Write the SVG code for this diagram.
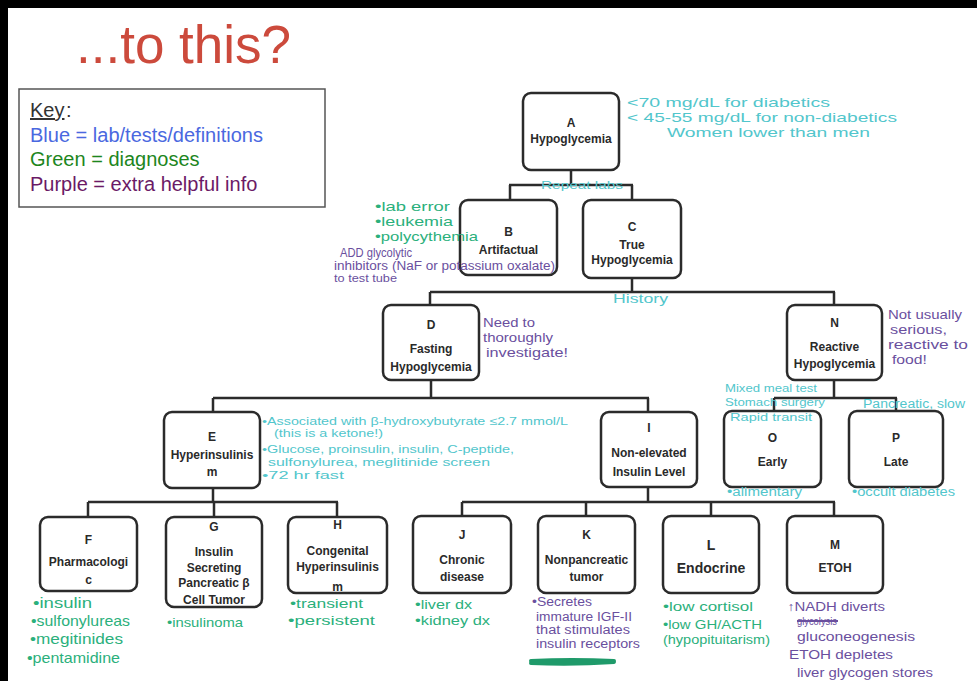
<svg xmlns="http://www.w3.org/2000/svg" width="977" height="681" viewBox="0 0 977 681">
  <style>
    .node rect { fill: #ffffff; stroke: #2b2b2b; stroke-width: 2.5; }
    .node text { font-family: "Liberation Sans", Arial, sans-serif; font-weight: bold; font-size: 12px; fill: #2a2a2a; text-anchor: middle; }
    .wire { fill: none; stroke: #2b2b2b; stroke-width: 2.5; }
    .note { font-family: "Liberation Sans", Arial, sans-serif; font-size: 13px; }
    .cy { fill: #52c6cc; }
    .gr { fill: #2bb07c; }
    .pu { fill: #6a4f9e; }
    .key { font-family: "Liberation Sans", Arial, sans-serif; font-size: 20px; }
  </style>

  <!-- page background -->
  <rect x="0" y="0" width="977" height="681" fill="#ffffff"/>

  <!-- slide frame: heavy black edge along the top and left -->
  <path id="frame" d="M4,681 V4 H977" fill="none" stroke="#000000" stroke-width="8"/>

  <!-- title -->
  <text x="76" y="63" font-family="Liberation Sans, Arial, sans-serif" font-size="53" fill="#cc4a3c">...to this?</text>

  <!-- colour key -->
  <g id="key">
    <rect x="19" y="89" width="306" height="118" fill="#ffffff" stroke="#555555" stroke-width="1.5"/>
    <text class="key" x="30" y="117" fill="#333333" text-decoration="underline">Key</text>
    <text class="key" x="66" y="117" fill="#333333">:</text>
    <text class="key" x="30" y="142" fill="#4a68e0">Blue = lab/tests/definitions</text>
    <text class="key" x="30" y="166" fill="#1d861d">Green = diagnoses</text>
    <text class="key" x="30" y="191" fill="#6b1a66">Purple = extra helpful info</text>
  </g>

  <!-- connectors -->
  <g id="connectors" class="wire">
    <path d="M571,170 V185 M509,185 H633 M510,185 V200 M632,185 V200"/>
    <path d="M632,278 V292 M430,292 H835 M430,292 V305 M834,292 V305"/>
    <path d="M431,380 V398 M213,398 H649 M213,398 V412 M648,398 V412"/>
    <path d="M834,380 V398 M774,398 H897 M774,398 V411 M896,398 V411"/>
    <path d="M213,488 V502 M88,502 H338 M88,502 V517 M214,502 V517 M337,502 V517"/>
    <path d="M648,487 V502 M462,502 H835 M462,502 V516 M586,502 V516 M711,502 V516 M834,502 V516"/>
  </g>

  <!-- nodes -->
  <g id="node-A" class="node">
    <rect x="523" y="93" width="96" height="77" rx="8"/>
    <text x="571" y="127">A</text>
    <text x="571" y="143">Hypoglycemia</text>
  </g>
  <g id="node-B" class="node">
    <rect x="460" y="200" width="97" height="75" rx="8"/>
    <text x="508.5" y="236">B</text>
    <text x="508.5" y="254">Artifactual</text>
  </g>
  <g id="node-C" class="node">
    <rect x="583" y="200" width="98" height="78" rx="8"/>
    <text x="632" y="231">C</text>
    <text x="632" y="249">True</text>
    <text x="632" y="264">Hypoglycemia</text>
  </g>
  <g id="node-D" class="node">
    <rect x="383" y="305" width="96" height="75" rx="8"/>
    <text x="431" y="329">D</text>
    <text x="431" y="353">Fasting</text>
    <text x="431" y="371">Hypoglycemia</text>
  </g>
  <g id="node-N" class="node">
    <rect x="787" y="305" width="95" height="75" rx="8"/>
    <text x="834.5" y="327">N</text>
    <text x="834.5" y="351">Reactive</text>
    <text x="834.5" y="368">Hypoglycemia</text>
  </g>
  <g id="node-E" class="node">
    <rect x="164" y="412" width="96" height="76" rx="8"/>
    <text x="212" y="441">E</text>
    <text x="212" y="459">Hyperinsulinis</text>
    <text x="212" y="476">m</text>
  </g>
  <g id="node-I" class="node">
    <rect x="601" y="412" width="96" height="75" rx="8"/>
    <text x="649" y="432">I</text>
    <text x="649" y="457">Non-elevated</text>
    <text x="649" y="476">Insulin Level</text>
  </g>
  <g id="node-O" class="node">
    <rect x="724" y="411" width="97" height="76" rx="8"/>
    <text x="772.5" y="442">O</text>
    <text x="772.5" y="466">Early</text>
  </g>
  <g id="node-P" class="node">
    <rect x="849" y="411" width="94" height="76" rx="8"/>
    <text x="896" y="442">P</text>
    <text x="896" y="466">Late</text>
  </g>
  <g id="node-F" class="node">
    <rect x="40" y="517" width="97" height="74" rx="8"/>
    <text x="88.5" y="544">F</text>
    <text x="88.5" y="566">Pharmacologi</text>
    <text x="88.5" y="584">c</text>
  </g>
  <g id="node-G" class="node">
    <rect x="166" y="517" width="96" height="90" rx="8"/>
    <text x="214" y="531">G</text>
    <text x="214" y="556">Insulin</text>
    <text x="214" y="572">Secreting</text>
    <text x="214" y="587">Pancreatic β</text>
    <text x="214" y="604">Cell Tumor</text>
  </g>
  <g id="node-H" class="node">
    <rect x="288" y="517" width="99" height="76" rx="8"/>
    <text x="337.5" y="529">H</text>
    <text x="337.5" y="555">Congenital</text>
    <text x="337.5" y="571">Hyperinsulinis</text>
    <text x="337.5" y="591">m</text>
  </g>
  <g id="node-J" class="node">
    <rect x="413" y="516" width="98" height="77" rx="8"/>
    <text x="462" y="539">J</text>
    <text x="462" y="564">Chronic</text>
    <text x="462" y="581">disease</text>
  </g>
  <g id="node-K" class="node">
    <rect x="538" y="516" width="97" height="77" rx="8"/>
    <text x="586.5" y="539">K</text>
    <text x="586.5" y="564">Nonpancreatic</text>
    <text x="586.5" y="581">tumor</text>
  </g>
  <g id="node-L" class="node">
    <rect x="663" y="516" width="96" height="77" rx="8"/>
    <text x="711" y="550" style="font-size:14px">L</text>
    <text x="711" y="573" style="font-size:14px">Endocrine</text>
  </g>
  <g id="node-M" class="node">
    <rect x="787" y="516" width="96" height="77" rx="8"/>
    <text x="835" y="549">M</text>
    <text x="835" y="572">ETOH</text>
  </g>

  <!-- handwritten notes -->
  <g id="notes" class="note">
    <!-- A -->
    <text class="cy" x="627" y="107" textLength="203" lengthAdjust="spacingAndGlyphs" style="font-size:13.5px">&lt;70 mg/dL for diabetics</text>
    <text class="cy" x="627" y="122" textLength="270" lengthAdjust="spacingAndGlyphs" style="font-size:13.5px">&lt; 45-55 mg/dL for non-diabetics</text>
    <text class="cy" x="667" y="137" textLength="203" lengthAdjust="spacingAndGlyphs" style="font-size:13.5px">Women lower than men</text>
    <text class="cy" x="541" y="189" textLength="82" lengthAdjust="spacingAndGlyphs" style="font-size:11px">Repeat labs</text>
    <!-- B -->
    <text class="gr" x="375" y="211" textLength="75" lengthAdjust="spacingAndGlyphs">•lab error</text>
    <text class="gr" x="375" y="226" textLength="78" lengthAdjust="spacingAndGlyphs">•leukemia</text>
    <text class="gr" x="375" y="241" textLength="103" lengthAdjust="spacingAndGlyphs">•polycythemia</text>
    <text class="pu" x="340" y="257" textLength="72" lengthAdjust="spacingAndGlyphs" style="font-size:12px">ADD glycolytic</text>
    <text class="pu" x="334" y="270" textLength="221" lengthAdjust="spacingAndGlyphs" style="font-size:12px">inhibitors (NaF or potassium oxalate)</text>
    <text class="pu" x="334" y="282" textLength="63" lengthAdjust="spacingAndGlyphs" style="font-size:11px">to test tube</text>
    <!-- C / D -->
    <text class="cy" x="613" y="303" textLength="55" lengthAdjust="spacingAndGlyphs">History</text>
    <text class="pu" x="483" y="327" textLength="52" lengthAdjust="spacingAndGlyphs">Need to</text>
    <text class="pu" x="483" y="342" textLength="70" lengthAdjust="spacingAndGlyphs">thoroughly</text>
    <text class="pu" x="486" y="357" textLength="82" lengthAdjust="spacingAndGlyphs">investigate!</text>
    <!-- N -->
    <text class="pu" x="888" y="319" textLength="74" lengthAdjust="spacingAndGlyphs">Not usually</text>
    <text class="pu" x="890" y="334" textLength="57" lengthAdjust="spacingAndGlyphs">serious,</text>
    <text class="pu" x="888" y="349" textLength="80" lengthAdjust="spacingAndGlyphs">reactive to</text>
    <text class="pu" x="892" y="364" textLength="35" lengthAdjust="spacingAndGlyphs">food!</text>
    <!-- O / P -->
    <text class="cy" x="725" y="392" textLength="92" lengthAdjust="spacingAndGlyphs" style="font-size:11.5px">Mixed meal test</text>
    <text class="cy" x="725" y="406" textLength="100" lengthAdjust="spacingAndGlyphs" style="font-size:11.5px">Stomach surgery</text>
    <text class="cy" x="730" y="421" textLength="82" lengthAdjust="spacingAndGlyphs" style="font-size:11.5px">Rapid transit</text>
    <text class="cy" x="863" y="408" textLength="102" lengthAdjust="spacingAndGlyphs" style="font-size:12px">Pancreatic, slow</text>
    <text class="cy" x="727" y="496" textLength="75" lengthAdjust="spacingAndGlyphs" style="font-size:12px">•alimentary</text>
    <text class="cy" x="852" y="496" textLength="103" lengthAdjust="spacingAndGlyphs" style="font-size:12px">•occult diabetes</text>
    <!-- E -->
    <text class="cy" x="262" y="425" textLength="306" lengthAdjust="spacingAndGlyphs" style="font-size:11px">•Associated with β-hydroxybutyrate ≤2.7 mmol/L</text>
    <text class="cy" x="274" y="437" textLength="109" lengthAdjust="spacingAndGlyphs" style="font-size:11px">(this is a ketone!)</text>
    <text class="cy" x="262" y="453" textLength="252" lengthAdjust="spacingAndGlyphs" style="font-size:11px">•Glucose, proinsulin, insulin, C-peptide,</text>
    <text class="cy" x="268" y="466" textLength="222" lengthAdjust="spacingAndGlyphs" style="font-size:11px">sulfonylurea, meglitinide screen</text>
    <text class="cy" x="262" y="479" textLength="82" lengthAdjust="spacingAndGlyphs" style="font-size:11px">•72 hr fast</text>
    <!-- F / G / H -->
    <text class="gr" x="33" y="608" textLength="59" lengthAdjust="spacingAndGlyphs" style="font-size:15px">•insulin</text>
    <text class="gr" x="31" y="626" textLength="99" lengthAdjust="spacingAndGlyphs" style="font-size:15px">•sulfonylureas</text>
    <text class="gr" x="30" y="644" textLength="93" lengthAdjust="spacingAndGlyphs" style="font-size:15px">•megitinides</text>
    <text class="gr" x="27" y="663" textLength="93" lengthAdjust="spacingAndGlyphs" style="font-size:15px">•pentamidine</text>
    <text class="gr" x="167" y="627" textLength="76" lengthAdjust="spacingAndGlyphs">•insulinoma</text>
    <text class="gr" x="290" y="608" textLength="73" lengthAdjust="spacingAndGlyphs">•transient</text>
    <text class="gr" x="288" y="625" textLength="87" lengthAdjust="spacingAndGlyphs">•persistent</text>
    <!-- J / K -->
    <text class="gr" x="415" y="609" textLength="57" lengthAdjust="spacingAndGlyphs">•liver dx</text>
    <text class="gr" x="415" y="625" textLength="75" lengthAdjust="spacingAndGlyphs">•kidney dx</text>
    <text class="pu" x="532" y="606" textLength="60" lengthAdjust="spacingAndGlyphs" style="font-size:12px">•Secretes</text>
    <text class="pu" x="536" y="621" textLength="96" lengthAdjust="spacingAndGlyphs" style="font-size:12px">immature IGF-II</text>
    <text class="pu" x="536" y="634" textLength="94" lengthAdjust="spacingAndGlyphs" style="font-size:12px">that stimulates</text>
    <text class="pu" x="536" y="648" textLength="104" lengthAdjust="spacingAndGlyphs" style="font-size:12px">insulin receptors</text>
    <!-- scratched-out word under K -->
    <path d="M531,661 Q572,659 614,661 M531,663 Q572,665 614,662" fill="none" stroke="#1f9a6a" stroke-width="4" stroke-linecap="round"/>
    <!-- L / M -->
    <text class="gr" x="663" y="611" textLength="90" lengthAdjust="spacingAndGlyphs" style="font-size:12px">•low cortisol</text>
    <text class="gr" x="663" y="629" textLength="99" lengthAdjust="spacingAndGlyphs" style="font-size:12px">•low GH/ACTH</text>
    <text class="gr" x="663" y="644" textLength="107" lengthAdjust="spacingAndGlyphs" style="font-size:12px">(hypopituitarism)</text>
    <text class="pu" x="787" y="611" textLength="98" lengthAdjust="spacingAndGlyphs" style="font-size:12px">↑NADH diverts</text>
    <text class="pu" x="797" y="625" textLength="40" lengthAdjust="spacingAndGlyphs" style="font-size:10px">glycolysis</text>
    <path d="M797,621 H838" stroke="#6a4f9e" stroke-width="2"/>
    <text class="pu" x="797" y="641" textLength="118" lengthAdjust="spacingAndGlyphs" style="font-size:13px">gluconeogenesis</text>
    <text class="pu" x="789" y="659" textLength="104" lengthAdjust="spacingAndGlyphs" style="font-size:12px">ETOH depletes</text>
    <text class="pu" x="797" y="677" textLength="136" lengthAdjust="spacingAndGlyphs" style="font-size:12px">liver glycogen stores</text>
  </g>
</svg>
